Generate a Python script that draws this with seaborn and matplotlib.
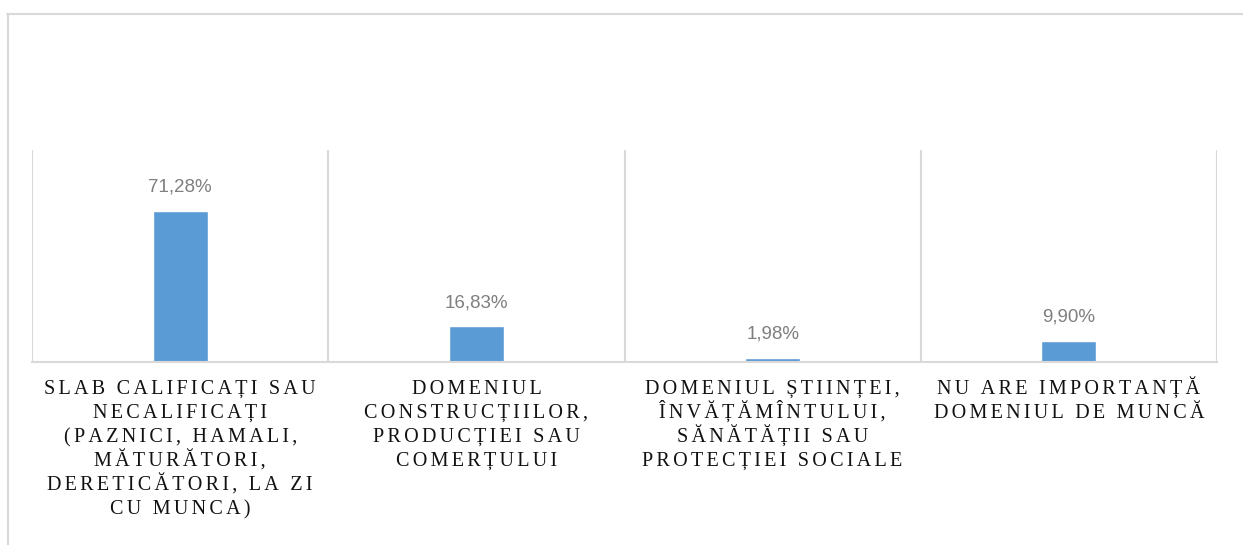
import matplotlib
matplotlib.use("Agg")
import matplotlib.pyplot as plt
import seaborn as sns
import pandas as pd
from matplotlib.lines import Line2D

# data
categories = [
    "SLAB CALIFICAȚI SAU\nNECALIFICAȚI\n(PAZNICI, HAMALI,\nMĂTURĂTORI,\nDERETICĂTORI, LA ZI\nCU MUNCA)",
    "DOMENIUL\nCONSTRUCȚIILOR,\nPRODUCȚIEI SAU\nCOMERȚULUI",
    "DOMENIUL ȘTIINȚEI,\nÎNVĂȚĂMÎNTULUI,\nSĂNĂTĂȚII SAU\nPROTECȚIEI SOCIALE",
    "NU ARE IMPORTANȚĂ\nDOMENIUL DE MUNCĂ",
]
values = [71.28, 16.83, 1.98, 9.90]
value_labels = ["71,28%", "16,83%", "1,98%", "9,90%"]

df = pd.DataFrame({"cat": categories, "val": values})

sns.set_theme(style="white")
grid_col = "#d9d9d9"
px = 0.72  # points per pixel at dpi 100

fig = plt.figure(figsize=(12.43, 5.45), dpi=100)
ax = fig.add_axes([32 / 1243, 1 - 362 / 545, 1185 / 1243, 212 / 545])

sns.barplot(data=df, x="cat", y="val", color="#5B9BD5", width=0.185,
            saturation=1, ax=ax)

ax.set_ylim(0, 100)
ax.set_xlim(-0.5, len(categories) - 0.5)
ax.set_yticks([])
ax.set_xticks([])
ax.set_xlabel("")
ax.set_ylabel("")

# category separators
for b in range(len(categories) + 1):
    ax.axvline(b - 0.5, color=grid_col, lw=1.5, zorder=0)

for side in ["top", "right", "left"]:
    ax.spines[side].set_visible(False)
ax.spines["bottom"].set_color(grid_col)
ax.spines["bottom"].set_linewidth(1.5)

# category labels, one line at a time so the line pitch stays even,
# letters spread with hair spaces like the original
gap = "\u200a\u200a"
for i, cat in enumerate(categories):
    for k, line in enumerate(cat.split("\n")):
        ax.annotate(gap.join(line), (i, 0), xycoords=ax.get_xaxis_transform(),
                    xytext=(0, -(32 + 24 * k) * px), textcoords="offset points",
                    ha="center", va="baseline", fontsize=14.5, color="#111111",
                    family=["Liberation Serif", "DejaVu Serif"])

# data labels
for i, (v, lab) in enumerate(zip(values, value_labels)):
    ax.annotate(lab, (i, v), xytext=(0, 11), textcoords="offset points",
                ha="center", va="bottom", fontsize=13.5, color="#7f7f7f",
                family=["Liberation Sans", "DejaVu Sans"])

# outer chart frame (top and left edges)
fig.add_artist(Line2D([7 / 1243, 1], [1 - 14 / 545, 1 - 14 / 545],
                      color=grid_col, lw=1.5, transform=fig.transFigure))
fig.add_artist(Line2D([8 / 1243, 8 / 1243], [0, 1 - 14 / 545],
                      color=grid_col, lw=1.5, transform=fig.transFigure))

fig.savefig("out.png", dpi=100, facecolor="white")
